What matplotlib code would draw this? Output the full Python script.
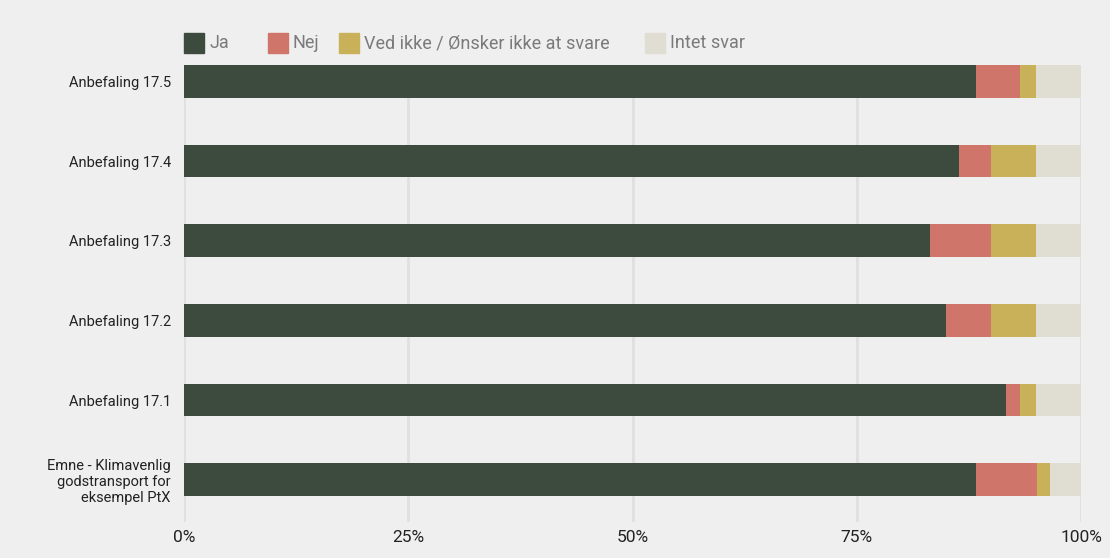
import matplotlib.pyplot as plt
from matplotlib.patches import Rectangle
import numpy as np

plt.rcParams['font.family'] = ['Roboto', 'DejaVu Sans']

categories = ['Anbefaling 17.5', 'Anbefaling 17.4', 'Anbefaling 17.3',
              'Anbefaling 17.2', 'Anbefaling 17.1',
              'Emne - Klimavenlig\ngodstransport for\neksempel PtX']
series = ['Ja', 'Nej', 'Ved ikke / Ønsker ikke at svare', 'Intet svar']
ja = [88.3, 86.4, 83.1, 84.9, 91.6, 88.3]
nej = [4.9, 3.5, 6.8, 5.0, 1.6, 6.8]
ved_ikke = [1.8, 5.1, 5.1, 5.1, 1.8, 1.4]
intet = [5.0, 5.0, 5.0, 5.0, 5.0, 3.5]
colors = ['#3d4a3e', '#d0756a', '#c9b15a', '#e0ddd2']

bg = '#efefef'
fig = plt.figure(figsize=(11.1, 5.58), dpi=100, facecolor=bg)
ax = fig.add_axes([0.1658, 0.0645, 0.8082, 0.819])
ax.set_facecolor(bg)

y = np.arange(len(categories))
left = np.zeros(len(categories))
for vals, c, name in zip([ja, nej, ved_ikke, intet], colors, series):
    ax.barh(y, vals, left=left, height=0.41, color=c, label=name, zorder=3)
    left += np.array(vals)

ax.set_ylim(5.53, -0.207)
ax.set_xlim(0, 100)
ax.set_xticks([0, 25, 50, 75, 100])
ax.set_xticklabels(['0%', '25%', '50%', '75%', '100%'], fontsize=12.5, color='#222222')
ax.set_yticks(y)
ax.set_yticklabels(categories, fontsize=10.5, color='#222222', linespacing=1.15)
ax.tick_params(length=0)
ax.tick_params(axis='x', pad=6)
ax.tick_params(axis='y', pad=9.5)
ax.grid(axis='x', color='#e0e0e0', linewidth=2, zorder=0)
for s in ax.spines.values():
    s.set_visible(False)

# legend drawn manually to match spacing
W, H = 1110.0, 558.0
leg_x = [184, 268, 339, 645]
for x0, c, name in zip(leg_x, colors, series):
    fig.patches.append(Rectangle((x0 / W, 1 - 53 / H), 20 / W, 20 / H,
                                 transform=fig.transFigure, color=c))
    fig.text((x0 + 25) / W, 1 - 43 / H, name, fontsize=13, color='#7a7a7a',
             va='center', ha='left')

fig.savefig('out.png', dpi=100, facecolor=bg)
